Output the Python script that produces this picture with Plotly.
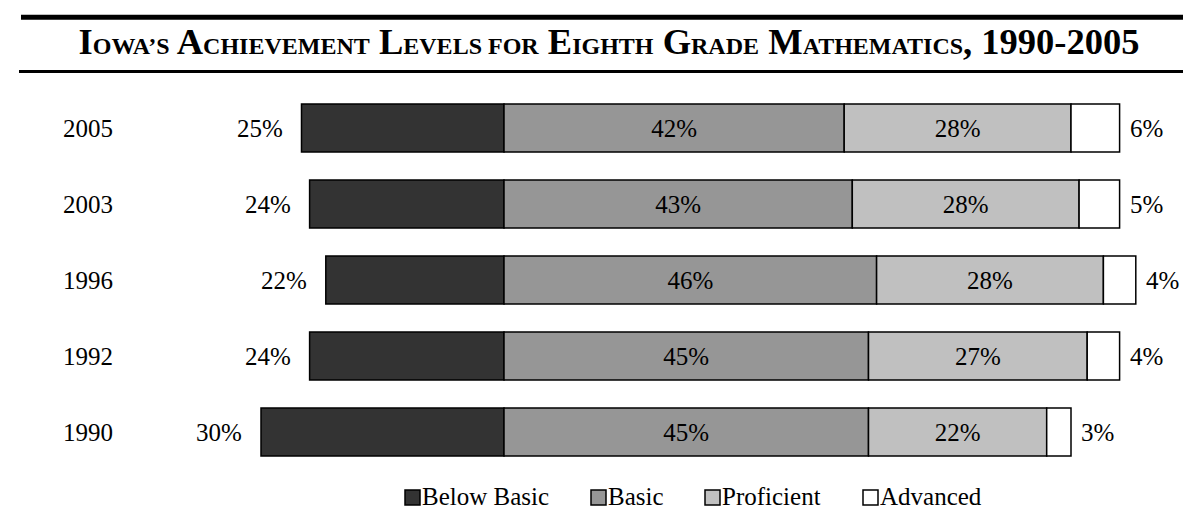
import plotly.graph_objects as go

years = ["2005", "2003", "1996", "1992", "1990"]
series_names = ["Below Basic", "Basic", "Proficient", "Advanced"]
below_basic = [25, 24, 22, 24, 30]
basic = [42, 43, 46, 45, 45]
proficient = [28, 28, 28, 27, 22]
advanced = [6, 5, 4, 4, 3]
colors = ["#333333", "#969696", "#c0c0c0", "#ffffff"]

FONT = "Liberation Serif"
FS = 25

# row positions: first year at top
ypos = [float(len(years) - 1 - i) for i in range(len(years))]

fig = go.Figure()
fig.add_trace(go.Bar(
    y=ypos, x=[-float(v) for v in below_basic], orientation="h", name=series_names[0],
    width=0.63,
    marker=dict(color=colors[0], line=dict(color="black", width=1.5)),
    hoverinfo="skip"))
for name, vals, col, show in [(series_names[1], basic, colors[1], True),
                              (series_names[2], proficient, colors[2], True),
                              (series_names[3], advanced, colors[3], False)]:
    kw = {}
    if show:
        kw = dict(text=[f"{v}%" for v in vals], textposition="inside",
                  insidetextanchor="middle",
                  textfont=dict(family=FONT, size=FS, color="black"))
    fig.add_trace(go.Bar(
        y=ypos, x=[float(v) for v in vals], orientation="h", name=name,
        width=0.63,
        marker=dict(color=col, line=dict(color="black", width=1.5)),
        hoverinfo="skip", **kw))

annotations = []
for i, y in enumerate(ypos):
    annotations.append(dict(x=-below_basic[i], y=y, xref="x", yref="y",
                            text=f"{below_basic[i]}%", showarrow=False,
                            xanchor="right", xshift=-17,
                            font=dict(family=FONT, size=FS, color="black")))
    total = basic[i] + proficient[i] + advanced[i]
    annotations.append(dict(x=total, y=y, xref="x", yref="y",
                            text=f"{advanced[i]}%", showarrow=False,
                            xanchor="left", xshift=8,
                            font=dict(family=FONT, size=FS, color="black")))

sc = "font-size:24px"
title = ("I<span style='%s'>OWA’S</span> A<span style='%s'>CHIEVEMENT</span> "
         "L<span style='%s'>EVELS FOR</span> E<span style='%s'>IGHTH</span> "
         "G<span style='%s'>RADE</span> M<span style='%s'>ATHEMATICS</span>, 1990-2005") % ((sc,) * 6)

W, H = 1191, 507
L, T, B = 110, 82, 45
plot_w = W - L
plot_h = H - T - B
px_per = 8.1
xmin = -(496 - L) / px_per
xmax = xmin + plot_w / px_per

def px_to_paper_x(px):
    return (px - L) / plot_w

def px_to_paper_y(py):
    return (H - B - py) / plot_h

shapes = [
    dict(type="line", xref="paper", yref="paper",
         x0=px_to_paper_x(13), x1=px_to_paper_x(W),
         y0=px_to_paper_y(9.3), y1=px_to_paper_y(9.3),
         line=dict(color="black", width=5)),
    dict(type="line", xref="paper", yref="paper",
         x0=px_to_paper_x(11), x1=px_to_paper_x(W),
         y0=px_to_paper_y(63.5), y1=px_to_paper_y(63.5),
         line=dict(color="black", width=3)),
]

# custom legend (swatch + label), laid out like the reference
legend_swatch_x = [397, 583, 697, 855]
legend_y0, legend_y1 = 482, 497
for k, name in enumerate(series_names):
    sx = legend_swatch_x[k]
    shapes.append(dict(type="rect", xref="paper", yref="paper",
                       x0=px_to_paper_x(sx), x1=px_to_paper_x(sx + 15),
                       y0=px_to_paper_y(legend_y1), y1=px_to_paper_y(legend_y0),
                       fillcolor=colors[k], line=dict(color="black", width=1.5)))
    annotations.append(dict(x=px_to_paper_x(sx + 17), y=px_to_paper_y(488),
                            xref="paper", yref="paper", text=name,
                            showarrow=False, xanchor="left", yanchor="middle",
                            borderpad=0, borderwidth=0, height=28,
                            font=dict(family=FONT, size=FS, color="black")))

fig.update_layout(
    width=W, height=H,
    margin=dict(l=L, r=0, t=T, b=B, autoexpand=False),
    paper_bgcolor="white", plot_bgcolor="white",
    barmode="relative",
    font=dict(family=FONT, size=FS, color="black"),
    title=dict(text=title, x=601 / W, xref="container", xanchor="center",
               y=1 - 33.5 / H, yref="container", yanchor="middle",
               font=dict(family=FONT, size=36.5, color="black", weight="bold")),
    xaxis=dict(range=[xmin, xmax], visible=False, fixedrange=True),
    yaxis=dict(range=[-0.5, len(years) - 0.5], tickmode="array",
               tickvals=ypos, ticktext=years,
               showgrid=False, zeroline=False, showline=False, ticks="",
               ticklabelstandoff=4, automargin=False, fixedrange=True,
               tickfont=dict(family=FONT, size=FS, color="black")),
    annotations=annotations,
    shapes=shapes,
    showlegend=False,
)

fig.write_html("out.html")
